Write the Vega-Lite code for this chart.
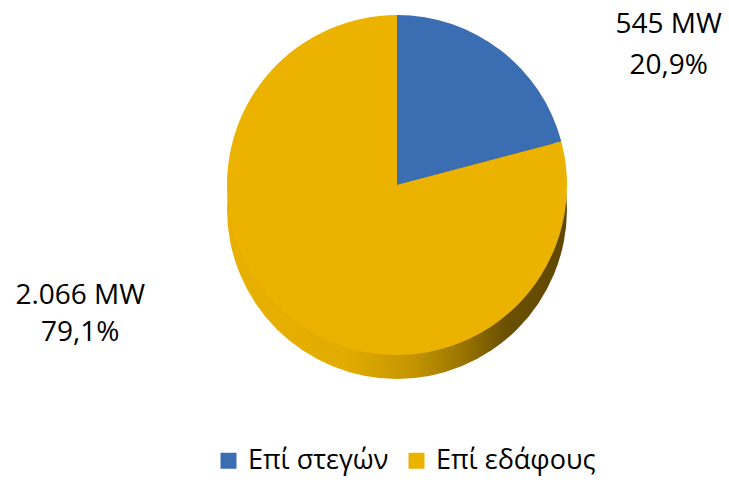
{
  "$schema": "https://vega.github.io/schema/vega-lite/v6.json",
  "width": 664,
  "height": 370,
  "autosize": {"type": "none"},
  "padding": {"left": 65, "right": 0, "top": 0, "bottom": 116},
  "background": "white",
  "config": {"view": {"stroke": null}, "font": "Open Sans"},
  "data": {
    "values": [
      {"category": "Επί στεγών", "mw": 545, "rank": 1, "label": "545 MW\n20,9%"},
      {"category": "Επί εδάφους", "mw": 2066, "rank": 2, "label": "2.066 MW\n79,1%"}
    ]
  },
  "layer": [
    {
      "transform": [{"aggregate": [{"op": "sum", "field": "mw", "as": "total"}]}],
      "mark": {
        "type": "arc",
        "outerRadius": 170,
        "yOffset": 24,
        "fill": {
          "gradient": "linear", "x1": 0, "y1": 0, "x2": 1, "y2": 0,
          "stops": [
            {"offset": 0, "color": "#E8B000"},
            {"offset": 0.35, "color": "#E2AC00"},
            {"offset": 0.55, "color": "#C39400"},
            {"offset": 0.7, "color": "#977300"},
            {"offset": 0.82, "color": "#6B5000"},
            {"offset": 1, "color": "#5F4700"}
          ]
        }
      },
      "encoding": {"theta": {"field": "total", "type": "quantitative", "stack": true}}
    },
    {
      "mark": {"type": "arc", "outerRadius": 170},
      "encoding": {
        "theta": {"field": "mw", "type": "quantitative", "stack": true},
        "order": {"field": "rank", "type": "quantitative"},
        "color": {
          "field": "category",
          "type": "nominal",
          "sort": ["Επί στεγών", "Επί εδάφους"],
          "scale": {"domain": ["Επί στεγών", "Επί εδάφους"], "range": ["#3B6DB3", "#EBB300"]},
          "legend": {
            "orient": "none",
            "legendX": 150,
            "legendY": 447,
            "direction": "horizontal",
            "title": null,
            "symbolType": "square",
            "symbolSize": 256,
            "symbolStrokeWidth": 0,
            "labelFontSize": 27,
            "labelFont": "Open Sans",
            "labelColor": "#000000",
            "labelOffset": 6,
            "columnPadding": 14
          }
        }
      }
    },
    {
      "mark": {"type": "text", "radius": 175, "dx": 165, "dy": -21, "fontSize": 28, "lineBreak": "\n", "lineHeight": 41, "align": "center", "baseline": "middle", "color": "#000000"},
      "encoding": {
        "theta": {"field": "mw", "type": "quantitative", "stack": true},
        "order": {"field": "rank", "type": "quantitative"},
        "detail": {"field": "category", "type": "nominal"},
        "text": {"condition": {"test": "datum.rank == 1", "field": "label"}, "value": ""}
      }
    },
    {
      "mark": {"type": "text", "radius": 175, "dx": -210, "dy": -28, "fontSize": 28, "lineBreak": "\n", "lineHeight": 37, "align": "center", "baseline": "middle", "color": "#000000"},
      "encoding": {
        "theta": {"field": "mw", "type": "quantitative", "stack": true},
        "order": {"field": "rank", "type": "quantitative"},
        "detail": {"field": "category", "type": "nominal"},
        "text": {"condition": {"test": "datum.rank == 2", "field": "label"}, "value": ""}
      }
    }
  ],
  "resolve": {"scale": {"theta": "independent"}}
}
